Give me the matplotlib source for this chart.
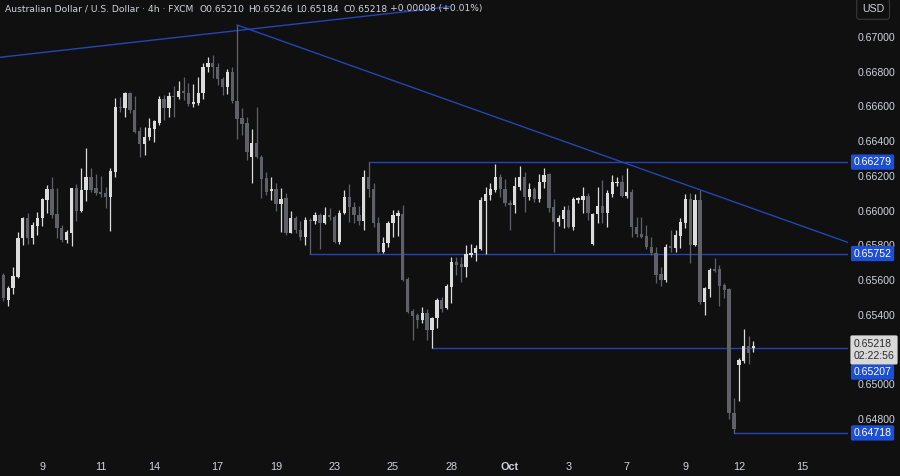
import matplotlib
matplotlib.use("Agg")
import matplotlib.pyplot as plt
import matplotlib.transforms as mtransforms
import numpy as np

plt.rcParams["font.family"] = ["Liberation Sans", "DejaVu Sans"]

# 4h candles, AUD/USD (FXCM)
opens = [
    0.65628, 0.65484, 0.65553, 0.65617, 0.65841, 0.65957, 0.65841, 0.65911, 0.65957, 0.66060,
    0.66124, 0.65980, 0.65899, 0.65830, 0.65870, 0.66130, 0.65997, 0.66118, 0.66193, 0.66130,
    0.66107, 0.66101, 0.66078, 0.66222, 0.66597, 0.66591, 0.66677, 0.66579, 0.66458, 0.66383,
    0.66424, 0.66470, 0.66504, 0.66643, 0.66591, 0.66660, 0.66654, 0.66689, 0.66677, 0.66614,
    0.66620, 0.66677, 0.66827, 0.66850, 0.66827, 0.66758, 0.66712, 0.66798, 0.66631, 0.66533,
    0.66504, 0.66308, 0.66389, 0.66308, 0.66187, 0.66112, 0.66124, 0.66037, 0.66072, 0.65870,
    0.65957, 0.65888, 0.65847, 0.65945, 0.65939, 0.65974, 0.65928, 0.65974, 0.65962, 0.65818,
    0.65986, 0.66078, 0.66020, 0.65974, 0.65939, 0.66193, 0.66124, 0.65928, 0.65761, 0.65813,
    0.65928, 0.65968, 0.65980, 0.65605, 0.65421, 0.65398, 0.65369, 0.65409, 0.65311, 0.65380,
    0.65484, 0.65438, 0.65559, 0.65703, 0.65692, 0.65674, 0.65743, 0.65755, 0.65778, 0.66055,
    0.66089, 0.66118, 0.66193, 0.66124, 0.66043, 0.66032, 0.66135, 0.66193, 0.66078, 0.66124,
    0.66066, 0.66164, 0.66210, 0.66020, 0.65934, 0.65951, 0.66003, 0.65905, 0.66060, 0.66060,
    0.66084, 0.65807, 0.65980, 0.66026, 0.65986, 0.66095, 0.66158, 0.66164, 0.66084, 0.66107,
    0.65905, 0.65865, 0.65853, 0.65790, 0.65755, 0.65634, 0.65599, 0.65795, 0.65784, 0.65853,
    0.65928, 0.66066, 0.65801, 0.66060, 0.65473, 0.65547, 0.65663, 0.65663, 0.65571, 0.65547,
    0.64833, 0.65109, 0.65132, 0.65219, 0.65210]
highs = [
    0.65640, 0.65565, 0.65674, 0.65876, 0.65962, 0.65986, 0.65934, 0.65991, 0.66072, 0.66147,
    0.66193, 0.66130, 0.65916, 0.65888, 0.66130, 0.66153, 0.66245, 0.66360, 0.66245, 0.66210,
    0.66199, 0.66135, 0.66245, 0.66648, 0.66654, 0.66683, 0.66683, 0.66660, 0.66481, 0.66481,
    0.66533, 0.66522, 0.66660, 0.66666, 0.66683, 0.66718, 0.66746, 0.66769, 0.66735, 0.66729,
    0.66769, 0.66850, 0.66885, 0.66896, 0.66850, 0.66769, 0.66816, 0.66827, 0.67069, 0.66591,
    0.66539, 0.66470, 0.66597, 0.66320, 0.66222, 0.66193, 0.66158, 0.66130, 0.66101, 0.65997,
    0.65968, 0.65939, 0.65962, 0.65957, 0.65991, 0.65986, 0.66020, 0.66014, 0.65974, 0.66003,
    0.66118, 0.66153, 0.66049, 0.66026, 0.66233, 0.66279, 0.66158, 0.65962, 0.65847, 0.65939,
    0.66003, 0.66003, 0.66032, 0.65617, 0.65432, 0.65409, 0.65444, 0.65432, 0.65386, 0.65496,
    0.65501, 0.65576, 0.65732, 0.65732, 0.65732, 0.65801, 0.65807, 0.65801, 0.66078, 0.66135,
    0.66158, 0.66270, 0.66210, 0.66182, 0.66060, 0.66193, 0.66256, 0.66222, 0.66158, 0.66135,
    0.66210, 0.66245, 0.66216, 0.66066, 0.65974, 0.66026, 0.66032, 0.66078, 0.66078, 0.66135,
    0.66101, 0.65986, 0.66135, 0.66176, 0.66118, 0.66205, 0.66193, 0.66205, 0.66245, 0.66124,
    0.65962, 0.65962, 0.65916, 0.65847, 0.65790, 0.65674, 0.65807, 0.65888, 0.65888, 0.65957,
    0.66095, 0.66101, 0.66095, 0.66118, 0.65559, 0.65669, 0.65726, 0.65686, 0.65582, 0.65553,
    0.64919, 0.65150, 0.65317, 0.65277, 0.65246]
lows = [
    0.65478, 0.65449, 0.65519, 0.65611, 0.65801, 0.65807, 0.65807, 0.65859, 0.65911, 0.65986,
    0.65957, 0.65841, 0.65818, 0.65813, 0.65795, 0.65939, 0.65991, 0.66055, 0.66107, 0.66089,
    0.66078, 0.66014, 0.65882, 0.66193, 0.66568, 0.66539, 0.66562, 0.66447, 0.66308, 0.66320,
    0.66406, 0.66395, 0.66493, 0.66522, 0.66539, 0.66539, 0.66643, 0.66637, 0.66602, 0.66597,
    0.66608, 0.66643, 0.66798, 0.66764, 0.66723, 0.66666, 0.66671, 0.66620, 0.66412, 0.66435,
    0.66291, 0.66158, 0.66303, 0.66072, 0.66089, 0.66060, 0.65997, 0.65876, 0.65859, 0.65870,
    0.65870, 0.65830, 0.65801, 0.65752, 0.65922, 0.65778, 0.65922, 0.65945, 0.65813, 0.65807,
    0.65980, 0.65934, 0.65928, 0.65916, 0.65888, 0.66078, 0.65905, 0.65755, 0.65755, 0.65790,
    0.65847, 0.65853, 0.65594, 0.65409, 0.65253, 0.65323, 0.65352, 0.65253, 0.65207, 0.65323,
    0.65415, 0.65432, 0.65467, 0.65628, 0.65588, 0.65617, 0.65732, 0.65709, 0.65772, 0.65752,
    0.66060, 0.66107, 0.66078, 0.66026, 0.65888, 0.65986, 0.66118, 0.65991, 0.66060, 0.66049,
    0.66049, 0.66130, 0.65991, 0.65761, 0.65911, 0.65899, 0.65899, 0.65888, 0.66043, 0.65986,
    0.65945, 0.65801, 0.65928, 0.65928, 0.65905, 0.66078, 0.66141, 0.66078, 0.66072, 0.65847,
    0.65847, 0.65841, 0.65778, 0.65743, 0.65582, 0.65565, 0.65588, 0.65761, 0.65761, 0.65784,
    0.65899, 0.65697, 0.65795, 0.65461, 0.65398, 0.65501, 0.65645, 0.65449, 0.65496, 0.64798,
    0.64718, 0.64902, 0.65121, 0.65115, 0.65184]
closes = [
    0.65496, 0.65553, 0.65622, 0.65841, 0.65957, 0.65841, 0.65916, 0.65957, 0.66066, 0.66124,
    0.65974, 0.65899, 0.65830, 0.65876, 0.66130, 0.65997, 0.66118, 0.66193, 0.66118, 0.66101,
    0.66095, 0.66078, 0.66228, 0.66597, 0.66591, 0.66677, 0.66579, 0.66452, 0.66383, 0.66424,
    0.66475, 0.66516, 0.66643, 0.66591, 0.66660, 0.66654, 0.66689, 0.66677, 0.66614, 0.66625,
    0.66677, 0.66827, 0.66850, 0.66827, 0.66758, 0.66712, 0.66798, 0.66631, 0.66527, 0.66499,
    0.66337, 0.66389, 0.66308, 0.66182, 0.66107, 0.66124, 0.66037, 0.66066, 0.65870, 0.65957,
    0.65888, 0.65847, 0.65945, 0.65937, 0.65974, 0.65928, 0.65974, 0.65962, 0.65818, 0.65986,
    0.66078, 0.66020, 0.65974, 0.65939, 0.66193, 0.66124, 0.65928, 0.65761, 0.65813, 0.65928,
    0.65974, 0.65986, 0.65599, 0.65415, 0.65392, 0.65369, 0.65409, 0.65311, 0.65380, 0.65484,
    0.65432, 0.65565, 0.65703, 0.65686, 0.65674, 0.65749, 0.65755, 0.65784, 0.66060, 0.66095,
    0.66124, 0.66193, 0.66124, 0.66043, 0.66032, 0.66141, 0.66193, 0.66078, 0.66124, 0.66066,
    0.66164, 0.66205, 0.66014, 0.65934, 0.65957, 0.66003, 0.65905, 0.66066, 0.66072, 0.66084,
    0.65986, 0.65980, 0.66026, 0.65986, 0.66101, 0.66164, 0.66164, 0.66084, 0.66107, 0.65905,
    0.65865, 0.65847, 0.65790, 0.65755, 0.65628, 0.65599, 0.65790, 0.65784, 0.65859, 0.65934,
    0.66066, 0.65801, 0.66060, 0.65473, 0.65553, 0.65657, 0.65651, 0.65565, 0.65542, 0.64833,
    0.64738, 0.65138, 0.65219, 0.65179, 0.65218]

date_ticks = [8, 20, 31, 44, 56, 68, 80, 92, 104, 116, 128, 140, 151, 164]
date_labels = ["9", "11", "14", "17", "19", "23", "25", "28", "Oct", "3", "7", "9", "12", "15"]
price_ticks = [0.670, 0.668, 0.666, 0.664, 0.662, 0.660, 0.658, 0.656, 0.654, 0.650, 0.648]

# drawn levels: (start candle, price)
levels = [(75, 0.66279), (63, 0.65752), (88, 0.65207), (150, 0.64718)]
# trendlines: (x0, p0, x1, p1)
rising_line = (-0.7, 0.66883, 91.7, 0.67175)
falling_line = (48, 0.67069, 173.9, 0.65811)

header = [("Australian Dollar / U.S. Dollar · 4h · FXCM", 5), ("O0.65210", 200),
          ("H0.65246", 248), ("L0.65184", 296), ("C0.65218", 343),
          ("+0.00008 (+0.01%)", 390)]

bg = "#101010"
up_col = "#dcdcdc"
down_col = "#5f6068"
line_col = "#2446b4"
box_col = "#1c4fd6"
txt_col = "#d1d4dc"

fig = plt.figure(figsize=(9, 4.76), dpi=100, facecolor=bg)
ax = fig.add_axes([0, 24 / 476, 848 / 900, 452 / 476])
ax.set_facecolor(bg)

x = np.arange(len(opens))
o = np.array(opens)
h = np.array(highs)
l = np.array(lows)
c = np.array(closes)
up = c >= o
cols = np.where(up, up_col, down_col)

ax.vlines(x, l, h, colors=cols, linewidth=0.9, zorder=3)
body_bot = np.minimum(o, c)
body_h = np.maximum(np.abs(c - o), 0.00003)
ax.bar(x, body_h, bottom=body_bot, width=0.68, color=cols, linewidth=0, zorder=4)

x_right = 173.4
for start, p in levels:
    ax.plot([start, x_right], [p, p], color=line_col, linewidth=1.0, zorder=2)
for x0, p0, x1, p1 in (rising_line, falling_line):
    ax.plot([x0, x1], [p0, p1], color=line_col, linewidth=1.0, zorder=2)

ax.set_xlim(-0.68, x_right)
ax.set_ylim(0.646081, 0.672133)

for s in ax.spines.values():
    s.set_visible(False)

ax.set_xticks(date_ticks)
ax.set_xticklabels(date_labels)
for t, lab in zip(ax.get_xticklabels(), date_labels):
    if lab == "Oct":
        t.set_fontweight("bold")
ax.tick_params(axis="x", length=0, pad=7, labelsize=7.8, colors=txt_col)

ax.yaxis.tick_right()
ax.set_yticks(price_ticks)
ax.set_yticklabels(["%.5f" % p for p in price_ticks])
ax.tick_params(axis="y", length=0, pad=7, labelsize=7.6, colors=txt_col)

trans = mtransforms.blended_transform_factory(ax.transAxes, ax.transData)

# level labels on the price scale
for start, p in levels:
    dy = -24 if p == 0.65207 else 0
    ax.annotate("%.5f" % p, xy=(1.0, p), xycoords=trans, xytext=(4, dy * 0.72),
                textcoords="offset points", ha="left", va="center", fontsize=7.6,
                color="white", annotation_clip=False, zorder=10,
                bbox=dict(boxstyle="round,pad=0.25,rounding_size=0.15", fc=box_col, ec="none"))

# last price label
ax.annotate("%.5f\n02:22:56" % closes[-1], xy=(1.0, closes[-1]), xycoords=trans,
            xytext=(4, 5.5), textcoords="offset points", ha="left", va="top",
            fontsize=7.6, color="#2a2a2a", linespacing=1.35, annotation_clip=False,
            zorder=10,
            bbox=dict(boxstyle="round,pad=0.3,rounding_size=0.15", fc="#d9d9d9", ec="none"))

for txt, px in header:
    fig.text(px / 900, 1 - 9 / 476, txt, fontsize=6.6, color=txt_col, va="center",
             ha="left", family="DejaVu Sans")
fig.text(862 / 900, 1 - 9 / 476, "USD", fontsize=7.6, color=txt_col, va="center", ha="left",
         bbox=dict(boxstyle="round,pad=0.5,rounding_size=0.3", fc=bg, ec="#3a3a3a", lw=0.8))

fig.savefig("out.png", dpi=100, facecolor=bg)
